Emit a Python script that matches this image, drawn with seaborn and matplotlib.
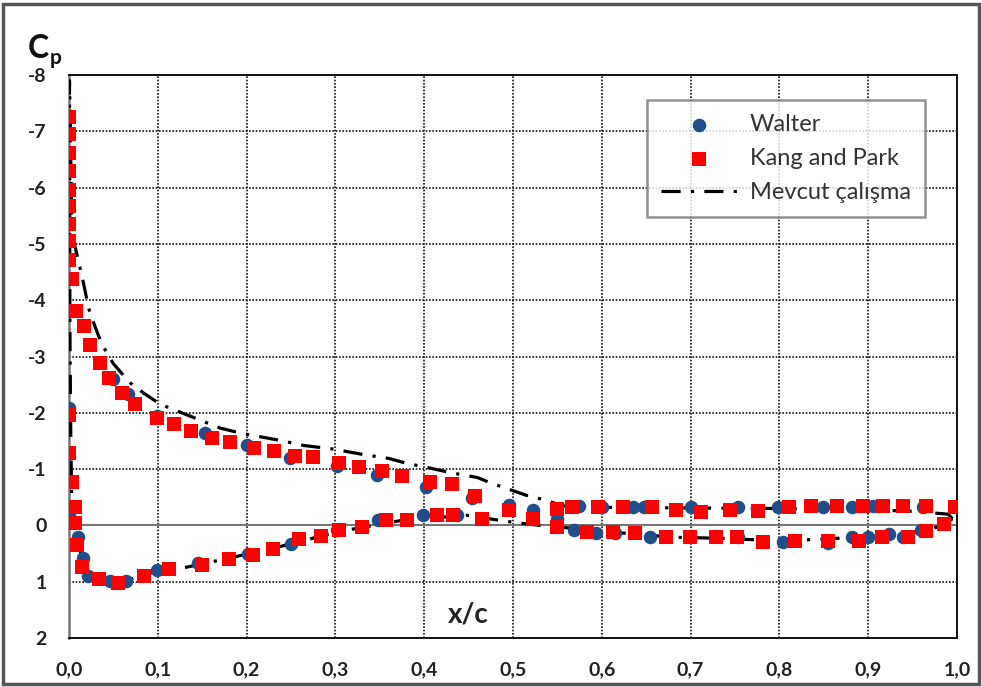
import matplotlib
matplotlib.use('Agg')

import matplotlib.pyplot as plt
import seaborn as sns
import pandas as pd
from matplotlib.patches import Rectangle

# Walter (circles)
walter_x = [0.0, 0.001, 0.05, 0.066, 0.099, 0.153, 0.2, 0.249, 0.302, 0.347, 0.402, 0.454,
            0.495, 0.523, 0.574, 0.6, 0.635, 0.647, 0.701, 0.753, 0.798, 0.849, 0.882, 0.906, 0.962,
            0.01, 0.016, 0.021, 0.046, 0.064, 0.099, 0.145, 0.202, 0.25, 0.302, 0.348, 0.399, 0.437,
            0.55, 0.569, 0.593, 0.615, 0.654, 0.699, 0.753, 0.804, 0.855, 0.882, 0.9, 0.923, 0.939, 0.96]
walter_cp = [-2.09, -0.14, -2.6, -2.34, -1.95, -1.65, -1.42, -1.2, -1.06, -0.9, -0.69, -0.48,
             -0.36, -0.27, -0.34, -0.32, -0.32, -0.32, -0.32, -0.33, -0.32, -0.32, -0.32, -0.34, -0.32,
             0.21, 0.58, 0.9, 0.99, 0.99, 0.8, 0.67, 0.5, 0.33, 0.09, -0.09, -0.19, -0.19,
             -0.12, 0.09, 0.14, 0.14, 0.21, 0.21, 0.21, 0.3, 0.32, 0.21, 0.21, 0.16, 0.21, 0.09]

# Kang and Park (squares)
kang_x = [0.0, 0.0, 0.0, 0.0, 0.0, 0.0, 0.0, 0.0, 0.0, 0.003, 0.008, 0.017, 0.024, 0.035,
          0.045, 0.06, 0.074, 0.099, 0.118, 0.137, 0.161, 0.181, 0.208, 0.231, 0.254, 0.275,
          0.304, 0.327, 0.352, 0.375, 0.407, 0.431, 0.457, 0.495, 0.523,
          0.55, 0.567, 0.596, 0.624, 0.657, 0.684, 0.712, 0.744, 0.776, 0.811, 0.836, 0.865,
          0.894, 0.917, 0.939, 0.965, 0.998,
          0.0, 0.0, 0.003, 0.007, 0.007,
          0.009, 0.015, 0.034, 0.055, 0.084, 0.113, 0.15, 0.18, 0.207, 0.23, 0.259, 0.284,
          0.304, 0.33, 0.357, 0.381, 0.414, 0.432, 0.465, 0.55, 0.583, 0.613, 0.637, 0.672,
          0.699, 0.729, 0.752, 0.781, 0.818, 0.855, 0.89, 0.916, 0.945, 0.965, 0.985]
kang_cp = [-7.25, -6.95, -6.62, -6.3, -5.95, -5.68, -5.35, -5.05, -4.72, -4.38, -3.8, -3.54,
           -3.2, -2.88, -2.62, -2.35, -2.16, -1.91, -1.8, -1.68, -1.56, -1.49, -1.38, -1.33,
           -1.24, -1.22, -1.11, -1.04, -0.96, -0.88, -0.77, -0.73, -0.53, -0.27, -0.12,
           -0.3, -0.32, -0.32, -0.32, -0.32, -0.28, -0.23, -0.27, -0.25, -0.32, -0.35, -0.35,
           -0.35, -0.35, -0.35, -0.35, -0.32,
           -1.96, -1.29, -0.78, -0.32, -0.05,
           0.35, 0.74, 0.96, 1.03, 0.9, 0.78, 0.71, 0.6, 0.53, 0.41, 0.25, 0.19,
           0.09, 0.02, -0.1, -0.1, -0.18, -0.18, -0.12, 0.03, 0.12, 0.12, 0.14, 0.21,
           0.21, 0.21, 0.21, 0.3, 0.28, 0.28, 0.27, 0.21, 0.21, 0.1, -0.02]

# Mevcut calisma (dash-dot line), upper surface TE -> LE -> lower surface TE
mevcut_x = [0.995, 0.99, 0.95, 0.9, 0.8, 0.7, 0.6, 0.56, 0.553, 0.539, 0.516, 0.494, 0.474,
            0.46, 0.429, 0.403, 0.381, 0.36, 0.331, 0.296, 0.264, 0.241, 0.193, 0.17, 0.127,
            0.103, 0.084, 0.069, 0.05, 0.037, 0.03, 0.022, 0.017, 0.012, 0.006, 0.003, 0.0005,
            0.001, 0.002, 0.003, 0.005, 0.01, 0.015, 0.02, 0.03, 0.05, 0.065, 0.09, 0.133,
            0.16, 0.189, 0.25, 0.3, 0.35, 0.375, 0.448, 0.485, 0.508, 0.53, 0.567, 0.612,
            0.68, 0.737, 0.793, 0.842, 0.887, 0.932, 0.966, 0.983, 0.995]
mevcut_cp = [-0.12, -0.2, -0.25, -0.28, -0.3, -0.31, -0.32, -0.34, -0.36, -0.44, -0.53, -0.65,
             -0.76, -0.85, -0.94, -1.03, -1.1, -1.19, -1.26, -1.36, -1.42, -1.5, -1.64, -1.73,
             -2.0, -2.15, -2.35, -2.53, -2.87, -3.22, -3.5, -3.86, -4.25, -4.6, -5.0, -5.5, -7.9,
             -3.5, -1.5, -0.5, 0.0, 0.35, 0.57, 0.75, 0.92, 1.0, 0.98, 0.85, 0.74,
             0.65, 0.55, 0.33, 0.12, -0.02, -0.09, -0.18, -0.09, -0.04, 0.0, 0.05, 0.12,
             0.21, 0.23, 0.27, 0.25, 0.21, 0.18, 0.09, 0.0, -0.12]

x_ticks = [0.0, 0.1, 0.2, 0.3, 0.4, 0.5, 0.6, 0.7, 0.8, 0.9, 1.0]
x_labels = ["0,0", "0,1", "0,2", "0,3", "0,4", "0,5", "0,6", "0,7", "0,8", "0,9", "1,0"]
y_ticks = [-8, -7, -6, -5, -4, -3, -2, -1, 0, 1, 2]

sns.set_style("white")
plt.rcParams['font.family'] = ['Lato', 'DejaVu Sans']

walter = pd.DataFrame({"x": walter_x, "cp": walter_cp})
kang = pd.DataFrame({"x": kang_x, "cp": kang_cp})
mevcut = pd.DataFrame({"x": mevcut_x, "cp": mevcut_cp})

fig = plt.figure(figsize=(9.82, 6.87), dpi=100)
ax = fig.add_axes([0.0703, 0.0713, 0.9042, 0.8195])

sns.lineplot(data=mevcut, x="x", y="cp", sort=False, estimator=None, color="black",
             linewidth=2.3, label="Mevcut çalışma", ax=ax, zorder=3)
ax.lines[-1].set_dashes((6, 3.2, 1, 3.2))
sns.scatterplot(data=walter, x="x", y="cp", marker="o", s=95, color="#1F4E8A",
                linewidth=0, label="Walter", ax=ax, zorder=4)
sns.scatterplot(data=kang, x="x", y="cp", marker="s", s=100, color="#FF0000",
                linewidth=0, label="Kang and Park", ax=ax, zorder=5)

ax.set_xlim(0, 1.0)
ax.set_ylim(2, -8)
ax.set_xticks(x_ticks)
ax.set_xticklabels(x_labels)
ax.set_yticks(y_ticks)
ax.set_yticklabels([str(v) for v in y_ticks])
ax.tick_params(length=0)
ax.tick_params(axis="x", pad=17)
ax.tick_params(axis="y", pad=16)
for lab in ax.get_xticklabels() + ax.get_yticklabels():
    lab.set_fontsize(14)
    lab.set_fontweight("bold")
    lab.set_color("#222222")
ax.set_xlabel("")
ax.set_ylabel("")

ax.grid(True, color="#111111", linestyle=(0, (1, 1)), linewidth=1.2)
ax.axhline(0, color="#777777", linewidth=1.5, zorder=2)
for side in ["top", "right", "bottom"]:
    ax.spines[side].set_linestyle((0, (1, 1)))
    ax.spines[side].set_color("#111111")
    ax.spines[side].set_linewidth(1.4)
ax.spines["left"].set_color("#777777")
ax.spines["left"].set_linewidth(1.8)

handles, labels = ax.get_legend_handles_labels()
order = [labels.index("Walter"), labels.index("Kang and Park"), labels.index("Mevcut çalışma")]
leg = ax.legend([handles[i] for i in order], [labels[i] for i in order],
                loc="upper right", bbox_to_anchor=(0.964, 0.956), fontsize=17,
                frameon=True, fancybox=False, borderpad=0.6, labelspacing=0.55,
                handlelength=3.2, handletextpad=0.55, borderaxespad=0)
leg.get_frame().set_edgecolor("#777777")
leg.get_frame().set_linewidth(1.8)
for t in leg.get_texts():
    t.set_color("#333333")

fig.text(28 / 982, 1 - 58 / 687, "C", fontsize=23, fontweight="bold", va="baseline", color="#111111")
fig.text(50 / 982, 1 - 64 / 687, "p", fontsize=15, fontweight="bold", va="baseline", color="#111111")
ax.text(0.45, 1.58, "x/c", fontsize=20, fontweight="bold", ha="center", va="center", color="#222222")

fig.patches.append(Rectangle((0.003, 0.004), 0.994, 0.99, transform=fig.transFigure,
                             fill=False, edgecolor="#555555", linewidth=2.5))

fig.savefig("out.png", dpi=100)
